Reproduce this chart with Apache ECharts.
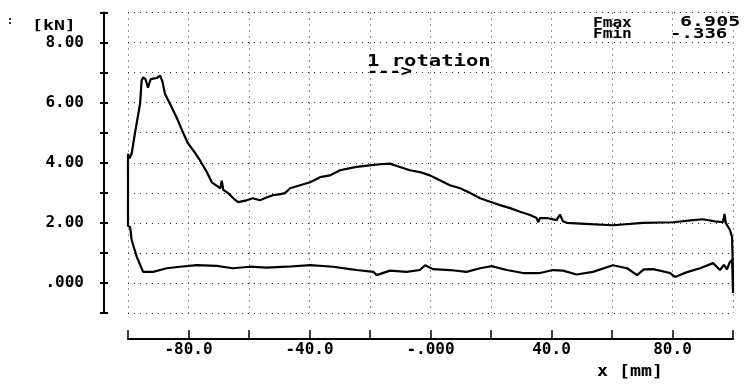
<!DOCTYPE html>
<html>
<head>
<meta charset="utf-8">
<script src="https://cdn.jsdelivr.net/npm/echarts@6/dist/echarts.min.js"></script>
<style>
html,body{margin:0;padding:0;background:#fff;}
#c{width:751px;height:392px;}
</style>
</head>
<body>
<div id="c"></div>
<script>
// Upper branch (forward stroke) x [mm], F [kN]
var upperX = [-100, -99.5, -98.8, -97.7, -96.0, -95.5, -95.0, -94.2, -93.4, -92.5, -91.7, -90.5, -89.4, -88.6, -87.8, -85.8, -83.9, -82, -80.2, -78, -76.2, -74, -72.3, -70.5, -69.5, -69.0, -68.5, -66.9, -65, -63.6, -60.8, -58.7, -56.4, -54, -52.1, -50, -48.1, -46.4, -43.1, -39.8, -36.5, -33.2, -29.9, -26.6, -24.4, -19.4, -16.7, -13.4, -10.1, -6.8, -3.5, -0.2, 3.1, 6.4, 9.8, 13.1, 16.4, 19.7, 23.0, 26.3, 29.6, 32.9, 35.1, 35.6, 36.2, 38.4, 41.7, 42.8, 43.8, 45.0, 52.7, 60.3, 70.2, 80.2, 86.8, 90.1, 94.0, 96.7, 97.2, 97.6, 99.0, 99.7, 100];
var upperY = [4.3, 4.15, 4.3, 4.98, 5.97, 6.74, 6.84, 6.78, 6.5, 6.78, 6.8, 6.82, 6.9, 6.7, 6.3, 5.9, 5.5, 5.05, 4.65, 4.35, 4.08, 3.7, 3.35, 3.22, 3.15, 3.4, 3.1, 2.99, 2.8, 2.69, 2.75, 2.82, 2.75, 2.85, 2.92, 2.95, 2.99, 3.15, 3.25, 3.35, 3.52, 3.58, 3.75, 3.82, 3.86, 3.92, 3.95, 3.97, 3.86, 3.75, 3.69, 3.58, 3.42, 3.25, 3.15, 2.99, 2.82, 2.70, 2.59, 2.49, 2.37, 2.26, 2.16, 2.02, 2.16, 2.16, 2.09, 2.28, 2.05, 2.0, 1.96, 1.92, 2.0, 2.02, 2.09, 2.12, 2.05, 2.02, 2.3, 2.0, 1.76, 1.52, 0.3];
// Lower branch (return stroke)
var lowerX = [-100, -99.3, -98.8, -97.1, -95.0, -91.7, -87.2, -82.8, -77.3, -70.7, -65.3, -59.7, -54.1, -47.5, -39.8, -32.2, -26.6, -24.4, -18.9, -17.8, -13.4, -7.9, -3.5, -1.8, 0.8, 6.4, 11.9, 16.4, 20.2, 25.2, 30.6, 36.2, 40.5, 43.8, 48.3, 53.7, 60.3, 65.0, 68.3, 70.5, 73.6, 79.2, 80.8, 84.8, 89.1, 93.4, 95.7, 97, 98.0, 99.0, 99.7, 100];
var lowerY = [1.9, 1.86, 1.43, 0.87, 0.37, 0.37, 0.49, 0.54, 0.59, 0.57, 0.49, 0.54, 0.51, 0.54, 0.59, 0.54, 0.46, 0.43, 0.37, 0.26, 0.41, 0.37, 0.43, 0.59, 0.46, 0.43, 0.37, 0.49, 0.56, 0.43, 0.33, 0.33, 0.43, 0.41, 0.28, 0.37, 0.59, 0.49, 0.26, 0.45, 0.46, 0.33, 0.2, 0.36, 0.49, 0.66, 0.43, 0.6, 0.45, 0.7, 0.76, -0.336];

var yLabelValues = [0, 2, 4, 6, 8];
var xLabelValues = [-80, -40, 0, 40, 80];
var fmaxText = '6.905';
var fminText = '-.336';

var loop = [];
for (var i = 0; i < upperX.length; i++) loop.push([upperX[i], upperY[i]]);
for (var j = lowerX.length - 1; j >= 0; j--) loop.push([lowerX[j], lowerY[j]]);
loop.push([upperX[0], upperY[0]]);

var FONT = '"DejaVu Sans Mono", monospace';
var dotted = {type: [1, 5], color: '#333', width: 1};

function yFmt(v) {
  if (yLabelValues.indexOf(v) < 0) return '';
  return v === 0 ? '.000' : v.toFixed(2);
}
function xFmt(v) {
  if (xLabelValues.indexOf(v) < 0) return '';
  return v === 0 ? '-.000' : v.toFixed(1);
}
function txt(x, y, s, size, sx) {
  return {type: 'text', x: x, y: y, scaleX: sx, z: 10,
    style: {text: s, font: 'bold ' + size + 'px ' + FONT, fill: '#000', textVerticalAlign: 'top', verticalAlign: 'top'}};
}

var chart = echarts.init(document.getElementById('c'), null, {renderer: 'canvas'});
chart.setOption({
  backgroundColor: '#fff',
  animation: false,
  grid: {left: 128, right: 18, top: 12.5, bottom: 79, containLabel: false},
  xAxis: {
    type: 'value', min: -100, max: 100, interval: 20, offset: 26, position: 'bottom',
    axisLine: {show: true, onZero: false, lineStyle: {color: '#000', width: 2}},
    axisTick: {show: true, inside: true, length: 9, lineStyle: {color: '#000', width: 1.5}},
    axisLabel: {show: true, formatter: xFmt, margin: 3, color: '#000', fontFamily: FONT, fontWeight: 'bold', fontSize: 16, showMinLabel: true, showMaxLabel: true},
    splitLine: {show: true, lineStyle: dotted}
  },
  yAxis: [{
    type: 'value', min: -1, max: 9, interval: 1, offset: 24, position: 'left',
    axisLine: {show: true, onZero: false, lineStyle: {color: '#000', width: 2}},
    axisTick: {show: true, inside: false, length: 4, lineStyle: {color: '#000', width: 2}},
    axisLabel: {show: true, formatter: yFmt, margin: 20, color: '#000', fontFamily: FONT, fontWeight: 'bold', fontSize: 16},
    splitLine: {show: true, lineStyle: dotted}
  }, {
    type: 'value', min: -1, max: 9, interval: 1, offset: 24, position: 'left',
    axisLine: {show: false, onZero: false},
    axisTick: {show: true, inside: true, length: 4, lineStyle: {color: '#000', width: 2}},
    axisLabel: {show: false},
    splitLine: {show: false}
  }],
  series: [{
    type: 'line', data: loop, yAxisIndex: 0,
    showSymbol: false, symbol: 'none', smooth: false,
    lineStyle: {color: '#000', width: 2.2},
    z: 5
  }],
  graphic: [
    txt(7, 16, ':', 10, 1),
    txt(32, 19, '[kN]', 14, 1.3),
    txt(593, 16, 'Fmax', 14, 1.15),
    txt(593, 27, 'Fmin', 14, 1.15),
    txt(680, 15, fmaxText, 14, 1.43),
    txt(670, 27, fminText, 14, 1.36),
    txt(367, 55, '1 rotation', 15, 1.37),
    txt(367, 65, '--->', 15, 1.25),
    txt(597, 365, 'x [mm]', 15, 1.22)
  ]
});
</script>
</body>
</html>
